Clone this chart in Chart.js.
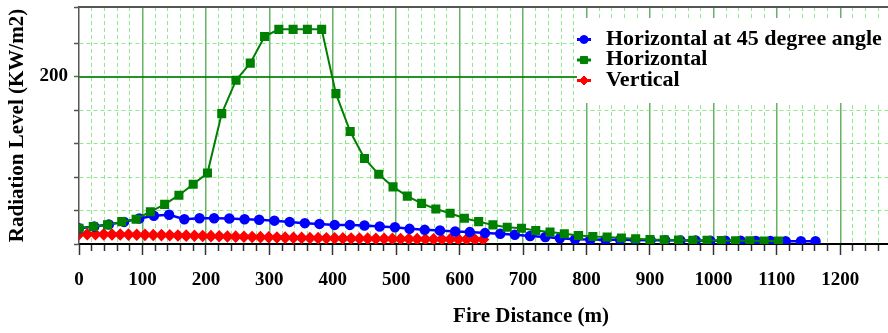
<!DOCTYPE html>
<html>
<head>
<meta charset="utf-8">
<script src="https://cdn.jsdelivr.net/npm/chart.js@4/dist/chart.umd.min.js"></script>
<style>
  html, body { margin: 0; padding: 0; background: #fff; overflow: hidden; }
  #wrap { position: relative; width: 1000px; height: 333px; }
</style>
</head>
<body>
<div id="wrap"><canvas id="fireChart" width="1000" height="333"></canvas></div>
<script>
// series names
var seriesNames = ['Horizontal at 45 degree angle', 'Horizontal', 'Vertical'];

// Horizontal at 45 degree angle (blue)
var blueX = [0, 24, 47, 71, 95, 118, 142, 166, 190, 213, 237, 261, 284, 308, 332, 356, 379, 403, 427, 450,
  474, 498, 521, 545, 569, 593, 616, 640, 664, 687, 711, 735, 758, 782, 806, 830, 853, 877, 901, 924,
  948, 972, 995, 1019, 1043, 1067, 1090, 1114, 1138, 1161];
var blueY = [18.7, 21, 23.4, 26.4, 30.5, 33.8, 35, 29.6, 30.8, 30.8, 30.5, 29.6, 29, 27.9, 26.4, 24.9, 24, 22.8, 22.8, 22,
  20.8, 20.1, 18.1, 16.9, 16.1, 14.9, 14.2, 13, 12.2, 11, 9.5, 8.3, 6.9, 5.7, 5.4, 5.2, 5, 4.8, 4.6, 4.5,
  4.3, 4.2, 4, 3.9, 3.8, 3.6, 3.5, 3.4, 3.3, 3.2];

// Horizontal (green)
var greenX = [0, 22.5, 45, 67.5, 90, 112.5, 135, 157.5, 180, 202.5, 225, 247.5, 270, 292.5, 315, 337.5, 360, 382.5, 405, 427.5,
  450, 472.5, 495, 517.5, 540, 562.5, 585, 607.5, 630, 652.5, 675, 697.5, 720, 742.5, 765, 787.5, 810, 832.5, 855, 877.5,
  900, 922.5, 945, 967.5, 990, 1012.5, 1035, 1057.5, 1080, 1102.5];
var greenY = [18.9, 20.8, 22.8, 26.7, 29.6, 38.6, 47.3, 58.3, 71.4, 84.7, 155.7, 195.6, 216, 247.7, 256.3, 256.3, 256.3, 256.3, 179.6, 134.3,
  102.1, 83.2, 68.2, 57.2, 48.5, 41.8, 36.7, 30.8, 26.7, 22.8, 19.9, 18.9, 16.1, 14.2, 12.2, 10.2, 9.0, 8.3, 7.1, 6.3,
  5.4, 5.1, 4.7, 4.3, 4.3, 4.1, 3.9, 3.8, 3.6, 3.5];

// Vertical (red)
var redX = [0, 13, 26, 39, 52, 65, 78, 91, 104, 117, 130, 143, 156, 169, 182, 195, 208, 221, 234, 247,
  260, 273, 286, 299, 312, 325, 338, 351, 364, 377, 390, 403, 416, 429, 442, 455, 468, 481, 494, 507,
  520, 533, 546, 559, 572, 585, 598, 611, 624, 637];
var redY = [11.8, 11.7, 11.6, 11.5, 11.4, 11.3, 11.2, 11.0, 10.9, 10.7, 10.6, 10.4, 10.2, 10.0, 9.8, 9.6, 9.4, 9.2, 9.0, 8.8,
  8.6, 8.4, 8.2, 8.0, 7.8, 7.6, 7.4, 7.3, 7.1, 7.0, 6.9, 6.8, 6.7, 6.6, 6.5, 6.4, 6.3, 6.2, 6.1, 6.0,
  6.0, 5.9, 5.8, 5.8, 5.7, 5.7, 5.6, 5.6, 5.5, 5.5];

// tick labels that are printed
var xTickLabels = [0, 100, 200, 300, 400, 500, 600, 700, 800, 900, 1000, 1100, 1200];
var yTickLabels = [200];

function toPoints(xs, ys) {
  return xs.map(function (x, i) { return { x: x, y: ys[i] }; });
}

var serifBold = { family: '"Liberation Serif", "Times New Roman", serif', weight: 'bold' };
var minorGreen = 'rgba(110,225,110,0.75)';
var majorGreen = 'rgba(0,128,0,0.6)';

var keyPlugin = {
  id: 'keyBox',
  afterDraw: function (chart) {
    var ctx = chart.ctx, area = chart.chartArea;
    ctx.save();
    ctx.strokeStyle = '#555';
    ctx.lineWidth = 2;
    ctx.beginPath();
    ctx.moveTo(area.left, area.top);
    ctx.lineTo(area.right, area.top);
    ctx.stroke();

    var bx = 577, by = 18;
    ctx.fillStyle = '#fff';
    ctx.fillRect(bx, by, area.right - bx, 85);
    ctx.font = 'bold 22px "Liberation Serif", "Times New Roman", serif';
    ctx.textBaseline = 'alphabetic';
    chart.data.datasets.forEach(function (ds, i) {
      var cy = 39.5 + i * 20.5;
      ctx.strokeStyle = ds.borderColor;
      ctx.lineWidth = 3;
      ctx.beginPath();
      ctx.moveTo(bx, cy);
      ctx.lineTo(bx + 14, cy);
      ctx.stroke();
      ctx.fillStyle = ds.backgroundColor;
      ctx.lineWidth = 1;
      Chart.helpers.drawPoint(ctx, { pointStyle: ds.pointStyle, radius: ds.pointRadius, rotation: 0, borderWidth: 1 }, bx + 7, cy);
      ctx.fillStyle = '#000';
      ctx.fillText(ds.label, 606, cy + 5);
    });
    ctx.restore();
  }
};

function tickVal(c) { return c && c.tick ? c.tick.value : null; }
function noPad(s) { s.paddingTop = 0; s.paddingBottom = 0; s.paddingLeft = 0; s.paddingRight = 0; }

new Chart(document.getElementById('fireChart'), {
  type: 'line',
  data: {
    datasets: [
      {
        label: seriesNames[0],
        data: toPoints(blueX, blueY),
        borderColor: '#0000ff',
        backgroundColor: '#0000ff',
        borderWidth: 2.5,
        pointStyle: 'circle',
        pointRadius: 4,
        order: 1
      },
      {
        label: seriesNames[1],
        data: toPoints(greenX, greenY),
        borderColor: '#008000',
        backgroundColor: '#008000',
        borderWidth: 2,
        pointStyle: 'rect',
        pointRadius: 5,
        order: 0
      },
      {
        label: seriesNames[2],
        data: toPoints(redX, redY),
        borderColor: '#ff0000',
        backgroundColor: '#ff0000',
        borderWidth: 2.5,
        pointStyle: 'rectRot',
        pointRadius: 4.5,
        order: 2
      }
    ]
  },
  options: {
    responsive: false,
    animation: false,
    devicePixelRatio: 1,
    layout: { padding: { top: 5, right: 17, left: 0, bottom: 0 } },
    elements: { line: { tension: 0 }, point: { borderWidth: 1 } },
    scales: {
      x: {
        type: 'linear',
        min: 0,
        max: 1425,
        afterFit: function (s) { s.height = 89; noPad(s); },
        ticks: {
          stepSize: 20,
          autoSkip: false,
          maxRotation: 0,
          padding: 14,
          color: '#000',
          font: Object.assign({ size: 19 }, serifBold),
          callback: function (v) { return xTickLabels.indexOf(v) >= 0 ? String(v) : ''; }
        },
        grid: {
          color: function (c) {
            var v = tickVal(c);
            return v % 100 === 0 ? 'rgba(0,0,0,0)' : minorGreen;
          },
          lineWidth: 1,
          tickColor: '#333',
          tickLength: 11,
          tickWidth: 1.5,
          tickBorderDash: function (c) { return tickVal(c) % 100 === 0 ? [] : [6, 40]; }
        },
        border: { display: true, color: '#000', width: 2, dash: [4, 3] },
        title: {
          display: true,
          text: 'Fire Distance (m)',
          color: '#000',
          font: Object.assign({ size: 21 }, serifBold),
          padding: { top: 0, bottom: 4 }
        }
      },
      xMajor: {
        type: 'linear',
        position: 'bottom',
        min: 0,
        max: 1425,
        afterFit: function (s) { s.height = 0; noPad(s); },
        ticks: { display: false, stepSize: 100 },
        grid: {
          color: function (c) {
            var v = tickVal(c);
            return (v === 0 || v % 100 !== 0) ? 'rgba(0,0,0,0)' : majorGreen;
          },
          lineWidth: 1.5,
          drawTicks: false
        },
        border: { display: false }
      },
      y: {
        min: 0,
        max: 283,
        afterFit: function (s) { s.width = 79; noPad(s); },
        ticks: {
          stepSize: 40,
          padding: 6,
          color: '#000',
          font: Object.assign({ size: 19 }, serifBold),
          callback: function (v) { return yTickLabels.indexOf(v) >= 0 ? String(v) : ''; }
        },
        grid: {
          color: function (c) {
            var v = tickVal(c);
            return (v === 0 || v === 200) ? 'rgba(0,0,0,0)' : minorGreen;
          },
          lineWidth: 1,
          tickColor: function (c) { return tickVal(c) === 200 ? 'rgba(0,128,0,0.85)' : '#555'; },
          tickLength: 5,
          tickWidth: 1.5
        },
        border: { display: true, color: '#555', width: 1.5, dash: [4, 3] },
        title: {
          display: true,
          text: 'Radiation Level (KW/m2)',
          color: '#000',
          font: Object.assign({ size: 21 }, serifBold),
          padding: { top: 5, bottom: 0 }
        }
      },
      yMajor: {
        position: 'left',
        min: 0,
        max: 283,
        afterFit: function (s) { s.width = 0; noPad(s); },
        ticks: { display: false, stepSize: 200 },
        grid: {
          color: function (c) { return tickVal(c) === 200 ? 'rgba(0,128,0,0.85)' : 'rgba(0,0,0,0)'; },
          lineWidth: 2,
          drawTicks: false
        },
        border: { display: false }
      }
    },
    plugins: {
      legend: { display: false },
      tooltip: { enabled: false }
    }
  },
  plugins: [keyPlugin]
});
</script>
</body>
</html>
